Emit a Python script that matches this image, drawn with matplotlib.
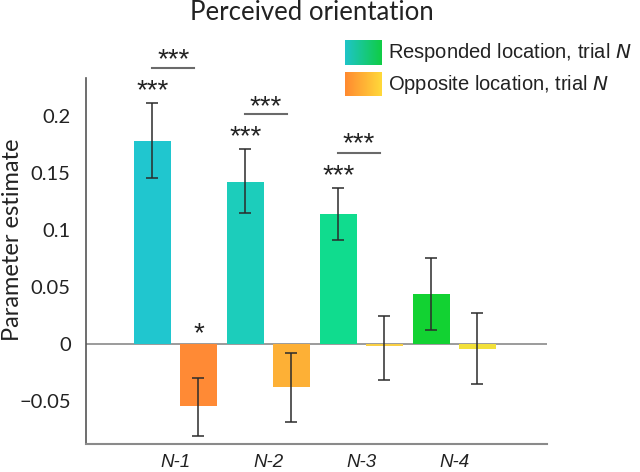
import matplotlib
matplotlib.use("Agg")
import matplotlib.pyplot as plt
import numpy as np
from matplotlib.colors import LinearSegmentedColormap

lags = ["N-1", "N-2", "N-3", "N-4"]
resp_vals = [0.178, 0.142, 0.114, 0.044]
resp_lo = [0.146, 0.115, 0.091, 0.012]
resp_hi = [0.211, 0.171, 0.137, 0.075]
opp_vals = [-0.054, -0.038, -0.002, -0.004]
opp_lo = [-0.081, -0.068, -0.032, -0.035]
opp_hi = [-0.030, -0.008, 0.025, 0.027]
resp_colors = ["#20c6cf", "#1ccdbb", "#10dc8e", "#12d232"]
opp_colors = ["#ff8a35", "#fdb036", "#f9cf45", "#f2e03a"]
resp_stars = ["***", "***", "***", ""]
opp_stars = ["*", "", "", ""]
pair_stars = ["***", "***", "***", ""]
resp_star_y = [0.227, 0.186, 0.1526, 0]
pair_line_y = [0.2421, 0.2018, 0.1675, 0]
pair_star_y = [0.254, 0.213, 0.180, 0]
opp_star_y = [0.014, 0, 0, 0]

fig = plt.figure(figsize=(6.4, 4.72), dpi=100)
ax = fig.add_axes([86/640, 1-444/472, (547-86)/640, (444-78)/472])

x = np.arange(len(lags))
off = 0.247
w = 0.398
ax.bar(x - off, resp_vals, w, color=resp_colors, zorder=2)
ax.bar(x + off, opp_vals, w, color=opp_colors, zorder=2)
rv = np.array(resp_vals); ov = np.array(opp_vals)
ax.errorbar(x - off, rv, yerr=[rv - np.array(resp_lo), np.array(resp_hi) - rv],
            fmt='none', ecolor='#2b2b2b', elinewidth=1.1, capsize=4, capthick=1.1, zorder=3)
ax.errorbar(x + off, ov, yerr=[ov - np.array(opp_lo), np.array(opp_hi) - ov],
            fmt='none', ecolor='#2b2b2b', elinewidth=1.1, capsize=4, capthick=1.1, zorder=3)
ax.axhline(0, color='#8a8a8a', lw=1.2, zorder=1)

ax.set_xlim(-0.962, 3.995)
ax.set_ylim(-0.0877, 0.2333)
ax.set_yticks([-0.05, 0, 0.05, 0.1, 0.15, 0.2])
ax.set_yticklabels(["\u22120.05", "0", "0.05", "0.1", "0.15", "0.2"],
                   fontfamily="Lato", fontsize=14.5)
ax.set_xticks(x)
ax.set_xticklabels(lags, fontfamily="Liberation Sans", style="italic", fontsize=13.5)
ax.tick_params(axis='both', length=0, colors='#222222')
ax.tick_params(axis='y', pad=11)
ax.tick_params(axis='x', pad=7)
for s in ['top', 'right']:
    ax.spines[s].set_visible(False)
ax.spines['left'].set_color('#555555')
ax.spines['bottom'].set_color('#8a8a8a')
ax.spines['left'].set_linewidth(1.2)
ax.spines['bottom'].set_linewidth(1.5)

sfont = dict(fontfamily="Liberation Sans", fontsize=20, color='#222222', ha='center', va='center')
for i in range(len(lags)):
    if resp_stars[i]:
        ax.text(x[i] - off, resp_star_y[i] - 0.005, resp_stars[i], clip_on=False, **sfont)
    if pair_stars[i]:
        ax.plot([x[i] - off, x[i] + 0.2], [pair_line_y[i]] * 2, color='#6a6a6a', lw=1.5, clip_on=False)
        ax.text(x[i] - 0.025, pair_star_y[i] - 0.005, pair_stars[i], clip_on=False, **sfont)
    if opp_stars[i]:
        ax.text(x[i] + off, opp_star_y[i] - 0.005, opp_stars[i], clip_on=False, **sfont)

fig.text(312/640, 1-13/472, "Perceived orientation", fontfamily="Lato",
         fontsize=18.5, ha='center', va='center', color='#222222')
fig.text(13/640, 1-240/472, "Parameter estimate", fontfamily="Lato",
         fontsize=17, ha='center', va='center', rotation=90, color='#222222')

# legend with gradient swatches
grad = np.linspace(0, 1, 100).reshape(1, -1)
cm1 = LinearSegmentedColormap.from_list("r", ["#1fc4c8", "#10cd45"])
cm2 = LinearSegmentedColormap.from_list("o", ["#ff8a30", "#ffd93a"])
for (y0, y1, cm, lab) in [(40, 65, cm1, "Responded location, trial "),
                          (72, 96, cm2, "Opposite location, trial ")]:
    lax = fig.add_axes([345/640, 1-y1/472, 37/640, (y1-y0)/472])
    lax.imshow(grad, aspect='auto', cmap=cm)
    lax.axis('off')
    fig.text(388/640, 1-(y0+y1)/2/472, lab + r"$\it{N}$", fontfamily="Liberation Sans",
             fontsize=14.5, ha='left', va='center', color='#222222')

fig.savefig("out.png", dpi=100)
